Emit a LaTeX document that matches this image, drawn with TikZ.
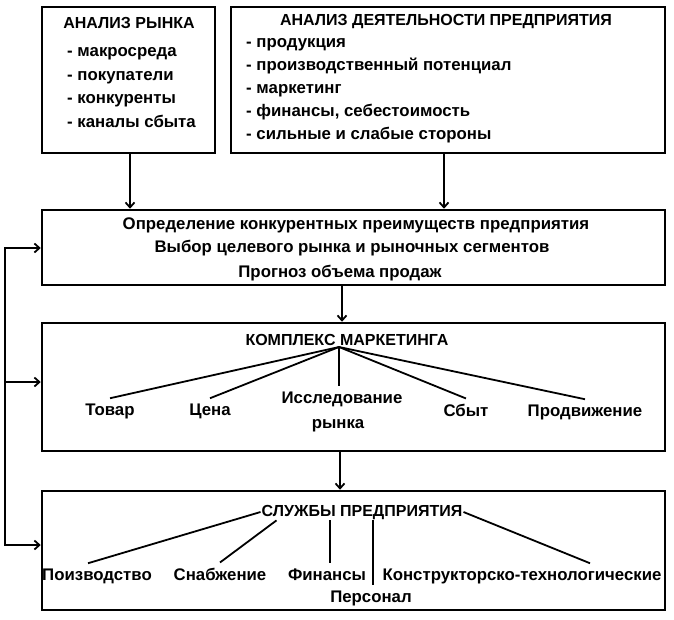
\documentclass[tikz,border=0pt]{standalone}
\usepackage{fontspec}
\setmainfont{Liberation Sans}
\usetikzlibrary{arrows.meta,calc}
\begin{document}
\begin{tikzpicture}[x=1pt,y=-1pt,
  box/.style={draw,line width=2.5pt,inner sep=0pt},
  txt/.style={font=\fontsize{16.8}{19}\selectfont\bfseries,anchor=base,inner sep=1pt},
  captxt/.style={txt,font=\fontsize{16}{19}\selectfont\bfseries},
  ltxt/.style={txt,anchor=base west},
  lab/.style={txt,inner sep=5pt},
  arr/.style={line width=1.8pt,-{Straight Barb[length=5pt,width=9pt]}},
  fan/.style={line width=1.8pt}]
\useasboundingbox (0,0) rectangle (674,620);
% boxes
\node[box,minimum width=173pt,minimum height=146pt] (b1) at (128.5,80) {};
\node[box,minimum width=434pt,minimum height=146pt] (b2) at (448,80) {};
\node[box,minimum width=623pt,minimum height=75pt] (b3) at (353.5,247.5) {};
\node[box,minimum width=623pt,minimum height=128pt] (b4) at (353.5,387) {};
\node[box,minimum width=623pt,minimum height=119pt] (b5) at (353.5,550.5) {};
% box 1
\node[captxt] (t1) at (129,29) {АНАЛИЗ РЫНКА};
\node[ltxt] (a1) at (66,57) {- макросреда};
\node[ltxt] (a2) at (66,81) {- покупатели};
\node[ltxt] (a3) at (66,104) {- конкуренты};
\node[ltxt] (a4) at (66,128) {- каналы сбыта};
% box 2
\node[captxt] (t2) at (446,26) {АНАЛИЗ ДЕЯТЕЛЬНОСТИ ПРЕДПРИЯТИЯ};
\node[ltxt] (c1) at (245,48) {- продукция};
\node[ltxt] (c2) at (245,71) {- производственный потенциал};
\node[ltxt] (c3) at (245,94) {- маркетинг};
\node[ltxt] (c4) at (245,117) {- финансы, себестоимость};
\node[ltxt] (c5) at (245,140) {- сильные и слабые стороны};
% box 3
\node[txt] (d1) at (356,230) {Определение конкурентных преимуществ предприятия};
\node[txt] (d2) at (352,253) {Выбор целевого рынка и рыночных сегментов};
\node[txt] (d3) at (340,277) {Прогноз объема продаж};
% box 4
\node[captxt] (k4) at (347,345) {КОМПЛЕКС МАРКЕТИНГА};
\coordinate (apex) at (339,347);
\node[lab] (tov) at (110,415) {Товар};
\node[lab] (cen) at (210,415) {Цена};
\node[lab] (iss) at (342,403) {Исследование};
\node[txt] (ryn) at (338,428) {рынка};
\node[lab] (sbt) at (466,416) {Сбыт};
\node[lab] (prd) at (585,416) {Продвижение};
\draw[fan] (apex) -- (tov.north);
\draw[fan] (apex) -- (cen.north);
\draw[fan] (apex) -- (apex |- iss.north);
\draw[fan] (apex) -- (sbt.north);
\draw[fan] (apex) -- (prd.north);
% box 5
\node[captxt] (s5) at (362,516) {СЛУЖБЫ ПРЕДПРИЯТИЯ};
\node[lab] (poi) at (97,580) {Поизводство};
\node[lab] (snb) at (220,580) {Снабжение};
\node[lab] (fin) at (327,580) {Финансы};
\node[lab] (per) at (371,602) {Персонал};
\node[lab] (kon) at (522,580) {Конструкторско-технологические};
\draw[fan] (s5.west) -- ([xshift=-9pt]poi.north);
\draw[fan] ([xshift=16pt]s5.south west) -- (snb.north);
\draw[fan] ([xshift=3pt]s5.south -| fin.north) -- ([xshift=3pt]fin.north);
\draw[fan] ([xshift=2pt]s5.south -| per.north) -- ([xshift=2pt]per.north);
\draw[fan] (s5.east) -- ([xshift=68pt]kon.north);
% arrows between boxes
\draw[arr] ([xshift=1.5pt]b1.south) -- ([xshift=1.5pt]b1.south |- b3.north);
\draw[arr] ([xshift=-4pt]b2.south) -- ([xshift=-4pt]b2.south |- b3.north);
\draw[arr] ([xshift=3pt]b3.south -| apex) -- ([xshift=3pt]b4.north -| apex);
\draw[arr] ([xshift=1pt]b4.south -| apex) -- ([xshift=1pt]b5.north -| apex);
% feedback loop
\coordinate (fbt) at (5,248);
\coordinate (fbm) at (5,382);
\coordinate (fbb) at (5,545);
\draw[arr] (fbb) -- (fbt) -- (fbt -| b3.west);
\draw[arr] (fbm) -- (fbm -| b4.west);
\draw[arr] (fbt) -- (fbb) -- (fbb -| b5.west);
\end{tikzpicture}
\end{document}
